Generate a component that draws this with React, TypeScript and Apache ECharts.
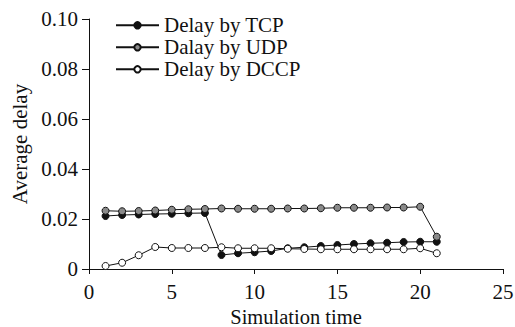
import React, { useEffect, useRef } from "react";
import * as echarts from "echarts";

const xValues = [1, 2, 3, 4, 5, 6, 7, 8, 9, 10, 11, 12, 13, 14, 15, 16, 17, 18, 19, 20, 21];
const tcpDelay = [0.0212, 0.0216, 0.0218, 0.022, 0.0221, 0.0223, 0.0224, 0.0056, 0.0063, 0.0067, 0.0072, 0.0083, 0.0087, 0.0092, 0.0096, 0.01, 0.0103, 0.0105, 0.0108, 0.0109, 0.0109];
const udpDelay = [0.0233, 0.0231, 0.0232, 0.0234, 0.0237, 0.0239, 0.024, 0.0242, 0.0241, 0.0241, 0.0241, 0.0242, 0.0242, 0.0243, 0.0245, 0.0245, 0.0245, 0.0246, 0.0246, 0.0249, 0.0129];
const dccpDelay = [0.0012, 0.0025, 0.0055, 0.0088, 0.0084, 0.0084, 0.0084, 0.0087, 0.0083, 0.0083, 0.0083, 0.0081, 0.008, 0.0079, 0.0079, 0.0079, 0.0079, 0.0079, 0.0079, 0.0083, 0.0063];
const seriesNames = ["Delay by TCP", "Dalay by UDP", "Delay by DCCP"];
const yTicks = [0, 0.02, 0.04, 0.06, 0.08, 0.1];

const FONT = "'Liberation Serif', 'Times New Roman', serif";
const FS = 21;

export default function App() {
  const ref = useRef<HTMLDivElement>(null);
  useEffect(() => {
    const chart = echarts.init(ref.current!, null, { renderer: "svg" });
    const mk = (name: string, data: number[], fill: string) => ({
      name,
      type: "line",
      data: xValues.map((x, i) => [x, data[i]]),
      symbol: "circle",
      symbolSize: 7,
      lineStyle: { color: "#111", width: 1 },
      itemStyle: { color: fill, borderColor: "#111", borderWidth: 1 },
    });
    chart.setOption({
      animation: false,
      backgroundColor: "#fff",
      textStyle: { fontFamily: FONT },
      grid: { left: 89, right: 12, top: 19, bottom: 58, containLabel: false, outerBoundsMode: "none" },
      legend: {
        orient: "vertical",
        left: 115,
        top: 14.8,
        padding: 0,
        itemWidth: 43,
        itemHeight: 8,
        itemGap: 1,
        textStyle: { fontFamily: FONT, fontSize: FS, lineHeight: 18.3, color: "#111" },
        data: seriesNames,
      },
      xAxis: {
        type: "value",
        min: 0,
        max: 25,
        interval: 5,
        name: "Simulation time",
        nameLocation: "middle",
        nameGap: 32,
        nameTextStyle: { fontFamily: FONT, fontSize: 20.5, lineHeight: 20, color: "#111" },
        axisLine: { lineStyle: { color: "#111" } },
        axisTick: { lineStyle: { color: "#111" }, length: 5 },
        axisLabel: { fontFamily: FONT, fontSize: FS, color: "#111", margin: 12 },
        splitLine: { show: false },
      },
      yAxis: {
        type: "value",
        min: 0,
        max: 0.1,
        interval: 0.02,
        name: "Average delay",
        nameLocation: "middle",
        nameGap: 58.5,
        nameTextStyle: { fontFamily: FONT, fontSize: FS, color: "#111" },
        axisLine: { show: true, lineStyle: { color: "#111" } },
        axisTick: { show: true, lineStyle: { color: "#111" }, length: 7 },
        axisLabel: {
          fontFamily: FONT,
          fontSize: FS,
          color: "#111",
          margin: 11,
          formatter: (v: number) => (v === 0 ? "0" : yTicks.includes(Math.round(v * 100) / 100) ? v.toFixed(2) : ""),
        },
        splitLine: { show: false },
      },
      series: [
        mk(seriesNames[0], tcpDelay, "#111"),
        mk(seriesNames[1], udpDelay, "#8a8a8a"),
        mk(seriesNames[2], dccpDelay, "#ffffff"),
      ],
    });
    return () => chart.dispose();
  }, []);
  return <div ref={ref} style={{ width: 515, height: 327, position: "absolute", left: 0, top: 0 }} />;
}
